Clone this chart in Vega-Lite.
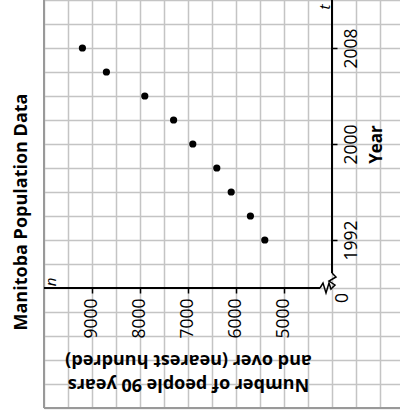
{
  "$schema": "https://vega.github.io/schema/vega-lite/v6.json",
  "width": 356,
  "height": 408,
  "autosize": {"type": "none"},
  "padding": {"left": 44, "top": 0, "right": 0, "bottom": 8},
  "background": "white",
  "config": {"view": {"stroke": null}, "font": "Open Sans"},
  "title": {"text": "Manitoba Population Data", "orient": "left", "anchor": "middle", "fontSize": 18, "fontWeight": "bold", "font": "Open Sans", "color": "black", "offset": 4, "dx": -8},
  "datasets": {
    "points": [
      {"year": 2008, "count": 9200},
      {"year": 2006, "count": 8700},
      {"year": 2004, "count": 7900},
      {"year": 2002, "count": 7300},
      {"year": 2000, "count": 6900},
      {"year": 1998, "count": 6400},
      {"year": 1996, "count": 6100},
      {"year": 1994, "count": 5700},
      {"year": 1992, "count": 5400}
    ],
    "breaks": [
      {"seg": "h", "i": 0, "bx": 4250, "by": 1988},
      {"seg": "h", "i": 1, "bx": 4187.5, "by": 1988.417},
      {"seg": "h", "i": 2, "bx": 4125, "by": 1987.583},
      {"seg": "h", "i": 3, "bx": 4062.5, "by": 1988.417},
      {"seg": "h", "i": 4, "bx": 4020.8, "by": 1987.917},
      {"seg": "h", "i": 5, "bx": 4000, "by": 1988},
      {"seg": "v", "i": 0, "bx": 4000, "by": 1989.25},
      {"seg": "v", "i": 1, "bx": 3916.7, "by": 1988.917},
      {"seg": "v", "i": 2, "bx": 4062.5, "by": 1988.583},
      {"seg": "v", "i": 3, "bx": 3937.5, "by": 1988.25},
      {"seg": "v", "i": 4, "bx": 4000, "by": 1988}
    ],
    "one": [{}]
  },
  "layer": [
    {
      "data": {"name": "points"},
      "mark": {"type": "point", "filled": true, "color": "black", "opacity": 1, "size": 52},
      "encoding": {
        "x": {
          "field": "count", "type": "quantitative",
          "scale": {"domain": [2583.33, 10000], "reverse": true, "nice": false, "zero": false},
          "axis": {
            "orient": "bottom", "offset": -120, "tickCount": 100,
            "values": [3000, 3500, 4000, 4500, 5000, 5500, 6000, 6500, 7000, 7500, 8000, 8500, 9000, 9500, 10000],
            "domain": false,
            "grid": true, "gridColor": "#c4c4c4", "gridWidth": 1.5,
            "ticks": true, "tickSize": 5, "tickWidth": 1.5,
            "tickColor": {"condition": {"test": "datum.value >= 5000 && datum.value <= 9000 && datum.value % 1000 == 0", "value": "black"}, "value": "transparent"},
            "labelExpr": "datum.value >= 5000 && datum.value <= 9000 && datum.value % 1000 == 0 ? datum.value : ''",
            "labelOverlap": false, "labelFlush": false,
            "labelAngle": 270, "labelAlign": "right", "labelBaseline": "middle", "labelPadding": 5,
            "labelFontSize": 17.5, "labelColor": "black", "labelFont": "Open Sans",
            "title": ["Number of people 90 years", "and over (nearest hundred)"],
            "titleAngle": 180, "titleFontSize": 18, "titleFontWeight": "bold", "titleFont": "Open Sans",
            "titleX": 144, "titleY": 95, "titleAlign": "center", "titleBaseline": "middle", "titleLineHeight": 24, "titleColor": "black"
          }
        },
        "y": {
          "field": "year", "type": "quantitative",
          "scale": {"domain": [1978, 2012], "nice": false, "zero": false},
          "axis": {
            "orient": "right", "offset": -68, "tickCount": 100,
            "values": [1978, 1980, 1982, 1984, 1986, 1988, 1990, 1992, 1994, 1996, 1998, 2000, 2002, 2004, 2006, 2008, 2010, 2012],
            "domain": false,
            "grid": true, "gridColor": "#c4c4c4", "gridWidth": 1.5,
            "ticks": true, "tickSize": 5, "tickWidth": 1.5,
            "tickColor": {"condition": {"test": "datum.value == 1992 || datum.value == 2000 || datum.value == 2008", "value": "black"}, "value": "transparent"},
            "labelExpr": "datum.value == 1992 || datum.value == 2000 || datum.value == 2008 ? datum.value : ''",
            "labelOverlap": false, "labelFlush": false,
            "labelAngle": 270, "labelAlign": "center", "labelBaseline": "top", "labelPadding": 5,
            "labelFontSize": 17.5, "labelColor": "black", "labelFont": "Open Sans",
            "title": "Year", "titleAngle": 270, "titleFontSize": 17, "titleFontWeight": "bold", "titleFont": "Open Sans",
            "titleX": 44, "titleY": 144, "titleAlign": "center", "titleBaseline": "middle", "titleColor": "black"
          }
        }
      }
    },
    {
      "data": {"name": "one"},
      "mark": {"type": "rule", "color": "#999999", "strokeWidth": 2},
      "encoding": {"x": {"datum": 10000, "type": "quantitative"}}
    },
    {
      "data": {"name": "one"},
      "mark": {"type": "rule", "color": "#999999", "strokeWidth": 2},
      "encoding": {"y": {"datum": 1978, "type": "quantitative"}}
    },
    {
      "data": {"name": "one"},
      "mark": {"type": "rule", "color": "black", "strokeWidth": 2},
      "encoding": {
        "x": {"datum": 10000, "type": "quantitative"},
        "x2": {"datum": 4250},
        "y": {"datum": 1988, "type": "quantitative"}
      }
    },
    {
      "data": {"name": "one"},
      "mark": {"type": "rule", "color": "black", "strokeWidth": 2},
      "encoding": {
        "x": {"datum": 4000, "type": "quantitative"},
        "y": {"datum": 2012, "type": "quantitative"},
        "y2": {"datum": 1989.25}
      }
    },
    {
      "data": {"name": "breaks"},
      "mark": {"type": "line", "color": "black", "strokeWidth": 1.5},
      "encoding": {
        "x": {"field": "bx", "type": "quantitative"},
        "y": {"field": "by", "type": "quantitative"},
        "detail": {"field": "seg"},
        "order": {"field": "i"}
      }
    },
    {
      "data": {"name": "one"},
      "mark": {"type": "text", "text": "0", "angle": 270, "dx": -10, "dy": 11, "align": "center", "baseline": "middle", "fontSize": 17.5, "color": "black", "font": "Open Sans"},
      "encoding": {"x": {"datum": 4000, "type": "quantitative"}, "y": {"datum": 1988, "type": "quantitative"}}
    },
    {
      "data": {"name": "one"},
      "mark": {"type": "text", "text": "t", "angle": 270, "dx": -7, "dy": -7, "align": "center", "baseline": "middle", "fontSize": 15, "fontStyle": "italic", "color": "black", "font": "Open Sans"},
      "encoding": {"x": {"datum": 4000, "type": "quantitative"}, "y": {"datum": 2012, "type": "quantitative"}}
    },
    {
      "data": {"name": "one"},
      "mark": {"type": "text", "text": "n", "angle": 270, "dx": 6, "dy": 7, "align": "center", "baseline": "middle", "fontSize": 15, "fontStyle": "italic", "color": "black", "font": "Open Sans"},
      "encoding": {"x": {"datum": 10000, "type": "quantitative"}, "y": {"datum": 1988, "type": "quantitative"}}
    }
  ]
}
